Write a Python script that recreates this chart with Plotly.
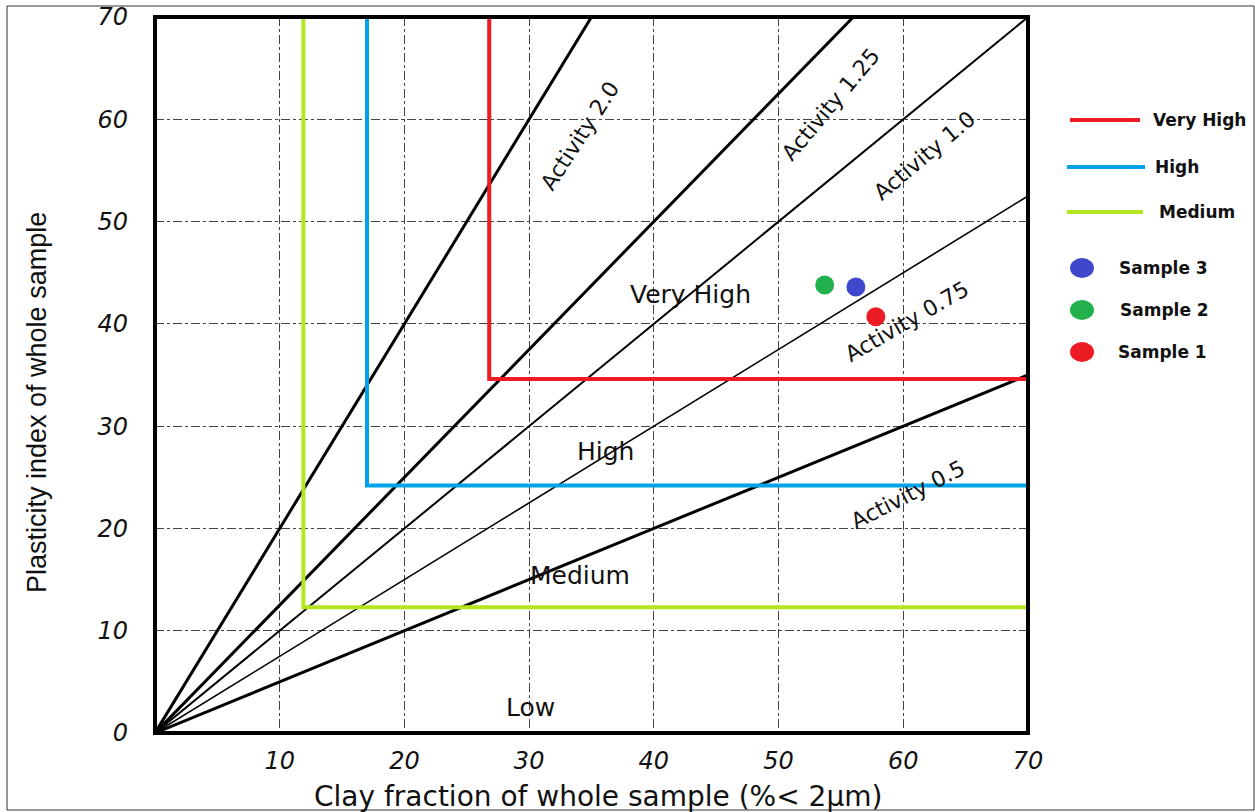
import plotly.graph_objects as go

# Activity lines (PI = A * clay fraction)
activity_values = [2.0, 1.25, 1.0, 0.75, 0.5]
activity_widths = [3, 3, 2, 1.6, 3]
activity_labels = ["Activity 2.0", "Activity 1.25", "Activity 1.0", "Activity 0.75", "Activity 0.5"]
label_x = [34.1, 54.2, 61.7, 60.3, 60.4]
label_y = [58.4, 61.4, 56.5, 40.2, 23.3]
label_angle = [-57, -50, -40, -30, -27]

# Swelling-potential boundaries: (clay fraction, plasticity index) corners
zone_names = ["Very High", "High", "Medium"]
zone_x = [26.8, 17.0, 11.9]
zone_y = [34.6, 24.2, 12.3]
zone_colors = ["#ED1C24", "#00A2E8", "#B5E61D"]

# Zone captions
zone_text = ["Very High", "High", "Medium", "Low"]
zone_text_x = [42.9, 36.1, 34.1, 30.1]
zone_text_y = [42.9, 27.5, 15.4, 2.5]

# Samples
sample_names = ["Sample 3", "Sample 2", "Sample 1"]
sample_clay = [56.2, 53.7, 57.8]
sample_pi = [43.6, 43.8, 40.7]
sample_colors = ["#3F48CC", "#22B14C", "#ED1C24"]

x_ticks = [10, 20, 30, 40, 50, 60, 70]
y_ticks = [0, 10, 20, 30, 40, 50, 60, 70]

x_title = "Clay fraction of whole sample (%< 2μm)"
y_title = "Plasticity index of whole sample"

W, H = 1255, 812
L, R, T, B = 155, 227, 17, 79
pw, ph = W - L - R, H - T - B

WIDE = "DejaVu Sans, Verdana, sans-serif"
ARIAL = "Liberation Sans, Arial, sans-serif"


def px(x):
    return (x - L) / pw


def py(y):
    return (H - B - y) / ph


fig = go.Figure()

for a, w in zip(activity_values, activity_widths):
    xe = min(70, 70 / a)
    fig.add_trace(go.Scatter(x=[0, xe], y=[0, a * xe], mode="lines",
                             line=dict(color="black", width=w),
                             showlegend=False, hoverinfo="skip"))

for name, zx, zy, c in zip(zone_names, zone_x, zone_y, zone_colors):
    fig.add_trace(go.Scatter(x=[zx, zx, 70.2], y=[70, zy, zy], mode="lines",
                             line=dict(color=c, width=4),
                             name=name, showlegend=False))

for name, sx, sy, c in zip(sample_names, sample_clay, sample_pi, sample_colors):
    fig.add_trace(go.Scatter(x=[sx], y=[sy], mode="markers",
                             marker=dict(color=c, size=19, line=dict(width=0)),
                             name=name, showlegend=False))

annotations = []
for t, x, y, ang in zip(activity_labels, label_x, label_y, label_angle):
    annotations.append(dict(x=x, y=y, text=t, showarrow=False, textangle=ang,
                            font=dict(family=WIDE, size=22, color="#111")))
for t, x, y in zip(zone_text, zone_text_x, zone_text_y):
    annotations.append(dict(x=x, y=y, text=t, showarrow=False,
                            font=dict(family=WIDE, size=25, color="#111")))

# Axis titles
annotations.append(dict(xref="paper", yref="paper", x=px(598), y=py(797), text=x_title,
                        showarrow=False, xanchor="center", yanchor="middle",
                        font=dict(family=WIDE, size=28, color="#111")))
annotations.append(dict(xref="paper", yref="paper", x=px(37), y=py(403), text=y_title,
                        showarrow=False, xanchor="center", yanchor="middle", textangle=-90,
                        font=dict(family=ARIAL, size=27, color="#111")))

shapes = [
    dict(type="rect", xref="paper", yref="paper", x0=0, y0=0, x1=1, y1=1,
         line=dict(color="black", width=4), layer="above"),
    dict(type="rect", xref="paper", yref="paper", x0=px(7), y0=py(6), x1=px(1254), y1=py(810),
         line=dict(color="#333", width=1)),
]

# Legend (drawn at the right of the plot)
leg_line_y = [120, 167, 212]
leg_line_x = [(1070, 1140), (1067, 1145), (1067, 1143)]
leg_text_x = [1151, 1153, 1157]
for name, c, yy, (x0, x1), tx in zip(zone_names, zone_colors, leg_line_y, leg_line_x, leg_text_x):
    shapes.append(dict(type="line", xref="paper", yref="paper", x0=px(x0), x1=px(x1),
                       y0=py(yy), y1=py(yy), line=dict(color=c, width=4)))
    annotations.append(dict(xref="paper", yref="paper", x=px(tx), y=py(yy), text="<b>%s</b>" % name,
                            showarrow=False, xanchor="left", yanchor="middle",
                            font=dict(family=WIDE, size=17, color="#111")))
leg_dot_y = [268, 310, 352]
leg_dot_tx = [1117, 1118, 1116]
for name, c, yy, tx in zip(sample_names, sample_colors, leg_dot_y, leg_dot_tx):
    shapes.append(dict(type="circle", xref="paper", yref="paper", x0=px(1070), x1=px(1094),
                       y0=py(yy - 10), y1=py(yy + 10), fillcolor=c, line=dict(width=0)))
    annotations.append(dict(xref="paper", yref="paper", x=px(tx), y=py(yy), text="<b>%s</b>" % name,
                            showarrow=False, xanchor="left", yanchor="middle",
                            font=dict(family=WIDE, size=17, color="#111")))

grid = dict(showgrid=True, gridcolor="#444", gridwidth=1, griddash="dashdot",
            zeroline=False, showline=False, ticks="", automargin=False,
            tickfont=dict(family=WIDE, size=24, color="#111", style="italic"))

fig.update_layout(
    width=W, height=H,
    margin=dict(l=L, r=R, t=T, b=B),
    paper_bgcolor="white", plot_bgcolor="white",
    showlegend=False,
    xaxis=dict(range=[0, 70], tickvals=x_ticks, ticktext=[str(v) for v in x_ticks],
               ticklabelstandoff=11, **grid),
    yaxis=dict(range=[0, 70], tickvals=y_ticks, ticktext=[str(v) for v in y_ticks],
               ticklabelstandoff=26, **grid),
    shapes=shapes,
    annotations=annotations,
)

fig.write_html("out.html")
